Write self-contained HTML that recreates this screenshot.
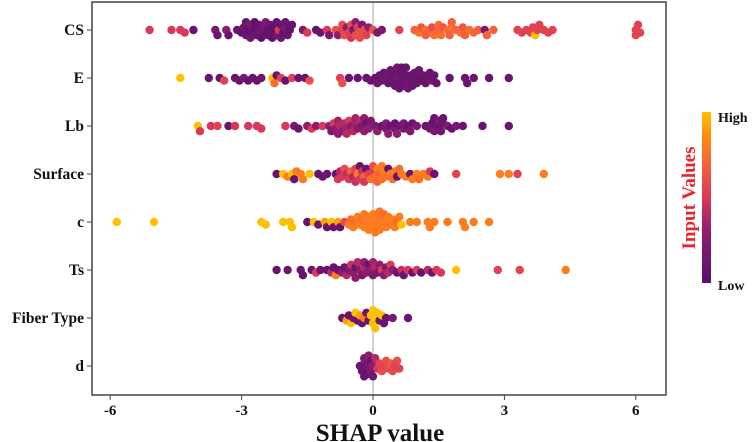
<!DOCTYPE html>
<html><head><meta charset="utf-8"><style>
html,body{margin:0;padding:0;background:#fff;width:754px;height:442px;overflow:hidden}
svg text{font-family:"Liberation Serif",serif;font-weight:bold}
</style></head><body>
<svg id="chart" width="754" height="442" viewBox="0 0 754 442" xmlns="http://www.w3.org/2000/svg">
<defs><linearGradient id="cb" x1="0" y1="1" x2="0" y2="0">
<stop offset="0" stop-color="#56106e"/><stop offset="0.3" stop-color="#8e1d6e"/><stop offset="0.5" stop-color="#d9385a"/><stop offset="0.7" stop-color="#f5613a"/><stop offset="0.85" stop-color="#ff8a10"/><stop offset="1" stop-color="#ffc000"/></linearGradient></defs>
<line x1="373" y1="2" x2="373" y2="395" stroke="#aaa" stroke-width="1"/>
<g id="points"></g>
<rect x="92" y="2" width="574" height="393" fill="none" stroke="#444" stroke-width="1.5"/>
<g id="axes"></g>
<text x="380" y="441" font-size="25" text-anchor="middle" fill="#111">SHAP value</text>
<rect x="702" y="112" width="9" height="171" fill="url(#cb)"/>
<text x="718" y="122" font-size="14" fill="#111">High</text>
<text x="718" y="290" font-size="14" fill="#111">Low</text>
<text x="0" y="0" font-size="19" fill="#e8242c" text-anchor="middle" transform="translate(695,198) rotate(-90)">Input Values</text>
</svg>
<script>
const features = ["CS","E","Lb","Surface","c","Ts","Fiber Type","d"];
const xTicks = [-6,-3,0,3,6];
const csShap=[-5.1,-4.6,-4.4,-4.3,-4.1,-3.6,-3.55,-3.35,-3.3,-3.1,-3.0,-2.95,-2.9,-2.85,-2.8,-2.75,-2.7,-2.65,-2.6,-2.55,-2.5,-2.45,-2.4,-2.35,-2.3,-2.25,-2.2,-2.15,-2.1,-2.05,-2.0,-1.95,-1.9,-1.85,-2.9,-2.8,-2.7,-2.6,-2.5,-2.4,-2.3,-2.2,-2.1,-2.0,-1.6,-1.5,-1.3,-1.2,-1.05,-1.0,-0.85,-0.8,-0.7,-0.65,-0.6,-0.55,-0.5,-0.45,-0.4,-0.35,-0.3,-0.25,-0.2,-0.15,-0.1,0.0,0.1,-0.7,-0.5,-0.3,-0.4,0.2,0.6,0.95,1.05,1.1,1.2,1.3,1.35,1.4,1.5,1.55,1.6,1.7,1.75,1.8,1.9,2.0,2.05,2.1,2.2,2.3,2.4,2.55,2.6,2.75,1.2,1.5,1.8,3.3,3.4,3.5,3.65,3.7,3.75,3.8,3.9,4.0,4.1,3.6,6.0,6.05,6.1,6.0];
const csVal=[.5,.5,.5,.5,.1,.2,.1,.3,.1,.1,.05,.15,.1,.05,.2,.1,.05,.1,.15,.05,.1,.2,.05,.1,.1,.05,.15,.5,.1,.05,.2,.1,.05,.1,.1,.15,.05,.1,.2,.1,.05,.1,.15,.1,.2,.5,.1,.1,.5,.2,.6,.3,.55,.6,.3,.55,.6,.2,.6,.55,.6,.2,.6,.55,.3,.6,.2,.6,.5,.6,.3,.2,.55,.7,.75,.65,.75,.7,.6,.75,.7,.75,.65,.75,.7,.75,.7,.75,.65,.7,.75,.72,.7,.2,.7,.7,.7,.75,.7,.55,.55,.55,.55,1.0,.55,.55,.55,.55,.55,.55,.55,.55,.55,.55];
const eShap=[-4.4,-3.75,-3.5,-3.4,-3.15,-3.05,-2.95,-2.85,-2.75,-2.65,-2.55,-2.3,-2.25,-2.2,-2.1,-2.0,-1.85,-1.7,-1.55,-1.45,-0.75,-0.7,-0.55,-0.35,-0.15,-0.05,0.05,0.1,0.15,0.2,0.25,0.3,0.35,0.4,0.45,0.5,0.55,0.6,0.65,0.7,0.75,0.8,0.85,0.9,0.95,1.0,1.05,1.1,1.15,1.2,1.25,1.3,1.35,1.4,1.45,0.4,0.5,0.55,0.6,0.65,0.7,0.75,0.8,0.9,1.0,0.6,0.7,1.75,2.1,2.15,2.3,2.65,3.1];
const eVal=[1,.1,.1,.55,.1,.1,.2,.1,.1,.1,.15,1,.75,.1,.55,.1,.55,.1,.1,.6,.55,.6,.1,.1,.1,.1,.1,.15,.1,.12,.1,.15,.1,.1,.12,.1,.15,.1,.1,.12,.1,.15,.1,.1,.12,.1,.15,.1,.1,.12,.1,.1,.15,.1,.1,.12,.1,.15,.1,.12,.1,.1,.15,.1,.12,.1,.1,.1,.1,.1,.1,.1,.1];
const lbShap=[-4.0,-3.95,-3.7,-3.55,-3.3,-3.15,-2.85,-2.65,-2.55,-2.0,-1.8,-1.7,-1.5,-1.4,-1.3,-1.15,-1.0,-0.95,-0.9,-0.85,-0.8,-0.75,-0.7,-0.65,-0.6,-0.55,-0.5,-0.45,-0.4,-0.35,-0.3,-0.25,-0.2,-0.15,-0.1,-0.05,-0.8,-0.6,-0.4,-0.2,0.05,0.1,0.2,0.3,0.35,0.4,0.5,0.55,0.6,0.7,0.8,0.85,0.9,1.0,0.3,0.5,0.7,1.2,1.3,1.35,1.4,1.5,1.55,1.6,1.7,1.8,1.9,1.4,1.5,1.6,2.05,2.5,3.1];
const lbVal=[1,.5,.5,.55,.1,.5,.5,.5,.5,.5,.2,.1,.3,.5,.3,.5,.3,.2,.5,.3,.35,.4,.3,.4,.35,.5,.3,.4,.35,.3,.4,.2,.3,.1,.3,.2,.3,.4,.35,.3,.2,.3,.1,.2,.3,.1,.2,.3,.15,.2,.1,.2,.1,.2,.25,.1,.2,.1,.15,.1,.2,.1,.15,.1,.2,.1,.2,.1,.2,.1,.1,.1,.1];
const surfShap=[-2.2,-2.05,-1.95,-1.85,-1.8,-1.75,-1.65,-1.6,-1.45,-1.25,-1.15,-1.05,-0.85,-0.8,-0.75,-0.7,-0.65,-0.6,-0.55,-0.5,-0.45,-0.4,-0.35,-0.3,-0.25,-0.2,-0.15,-0.1,-0.05,0,0.05,0.1,0.15,0.2,0.25,0.3,0.35,0.4,0.45,0.5,0.55,0.6,0.65,-0.4,-0.2,0,0.2,-0.3,0.1,0.75,0.85,0.9,1.0,1.05,1.15,1.25,1.3,1.4,1.9,2.9,3.1,3.3,3.9];
const surfVal=[.1,1,.8,1,.1,.8,.8,.8,1,.1,.1,.1,.1,.5,.4,.5,.6,.45,.5,.7,.4,.55,.8,.5,.45,.7,.1,.55,.75,.5,.75,.8,.7,.75,.8,.75,.1,.8,.75,.8,.1,.75,.8,.45,.5,.6,.8,.1,.7,.8,.1,.8,.8,.75,.8,.8,.5,.1,.55,.8,.8,.55,.8];
const cShap=[-5.85,-5.0,-2.55,-2.45,-2.05,-1.9,-1.85,-1.5,-1.35,-1.25,-1.1,-1.05,-0.95,-0.9,-0.8,-0.75,-0.65,-0.55,-0.5,-0.45,-0.4,-0.35,-0.3,-0.25,-0.2,-0.15,-0.1,-0.05,0,0.05,0.1,0.15,0.2,0.25,0.3,0.35,0.4,0.45,0.5,0.55,0.6,0.65,-0.2,0,0.1,0.2,0.3,-0.1,0.05,0.15,0.85,1.0,1.25,1.3,1.4,1.7,2.05,2.1,2.3,2.65];
const cVal=[1,1,1,1,1,1,1,.1,1,.1,.9,.1,1,.1,.9,.1,.6,.8,.75,.8,.75,.8,.8,.75,.8,.8,.78,.8,.8,.8,.78,.8,.8,.75,.8,.8,.78,.8,.8,.75,.8,1,.8,.8,.8,.78,.8,.8,.8,.78,.8,.8,.8,.8,.8,.8,.8,.8,.8,.8];
const tsShap=[-2.2,-1.95,-1.65,-1.6,-1.4,-1.3,-1.2,-1.05,-0.95,-0.9,-0.85,-0.8,-0.7,-0.65,-0.6,-0.55,-0.5,-0.45,-0.4,-0.35,-0.3,-0.25,-0.2,-0.15,-0.1,-0.05,0,0.05,0.1,0.15,0.2,0.25,0.3,0.35,0.4,0.45,-0.4,-0.2,0,0.55,0.65,0.7,0.8,0.9,1.0,1.1,1.25,1.35,1.45,1.55,1.9,2.85,3.35,4.4];
const tsVal=[.1,.1,.1,.1,.1,.5,.1,.1,.4,.1,.8,.1,.3,.1,.4,.2,.45,.3,.1,.4,.3,.2,.4,.3,.1,.3,.2,.4,.2,.3,.5,.3,.2,.4,.5,.3,.3,.3,.35,.1,.45,.1,.5,.1,.5,.1,.4,.1,.5,.5,1,.55,.55,.8];
const fibShap=[-0.7,-0.6,-0.55,-0.5,-0.45,-0.4,-0.35,-0.3,-0.25,-0.2,-0.15,-0.1,-0.05,0,0,0.05,0.05,0.1,0.15,0.2,0.25,0.3,0.45,0.8];
const fibVal=[.1,.9,.1,1,.1,1,.1,.9,.1,.8,.1,.1,1,1,1,1,1,1,.1,1,.1,.1,.2,.1];
const dShap=[-0.3,-0.25,-0.2,-0.2,-0.15,-0.15,-0.1,-0.1,-0.05,-0.05,0,0,0.05,0.1,0.15,0.2,0.25,0.3,0.35,0.4,0.45,0.5,0.55,0.6,-0.1,-0.2];
const dVal=[.1,.1,.15,.2,.1,.2,.1,.3,.1,.2,.15,.3,.4,.5,.55,.6,.55,.6,.6,.65,.6,.55,.6,.55,.2,.1];
const shapRows=[csShap,eShap,lbShap,surfShap,cShap,tsShap,fibShap,dShap];
const valRows=[csVal,eVal,lbVal,surfVal,cVal,tsVal,fibVal,dVal];

const NS="http://www.w3.org/2000/svg";
const X0=373,KX=43.8,Y0=30,DY=48;
function xScale(v){return X0+v*KX;}
function yScale(i){return Y0+i*DY;}
const stops=[[0,[86,16,110]],[0.3,[142,29,110]],[0.5,[217,56,90]],[0.7,[245,97,58]],[0.85,[255,138,16]],[1,[255,192,0]]];
function color(t){t=Math.max(0,Math.min(1,t));for(let i=1;i<stops.length;i++){if(t<=stops[i][0]){const a=stops[i-1],b=stops[i],f=(t-a[0])/(b[0]-a[0]);return "rgb("+a[1].map((c,k)=>Math.round(c+(b[1][k]-c)*f)).join(",")+")";}}return "rgb(255,192,0)";}
const pts=document.getElementById("points"),axes=document.getElementById("axes");
shapRows.forEach((sh,ri)=>{
  const vals=valRows[ri];
  const idx=sh.map((_,i)=>i).sort((a,b)=>sh[a]-sh[b]);
  const placed=[];const yc=yScale(ri);
  idx.forEach(i=>{
    const x=xScale(sh[i]);let best=0,bestD=-1;
    for(let k=0;k<9;k++){
      const off=(k%2?1:-1)*Math.ceil(k/2)*2.6;
      let md=1e9;placed.forEach(p=>{if(Math.abs(p[0]-x)<6){const d=Math.hypot(p[0]-x,p[1]-off);if(d<md)md=d;}});
      if(md>=5){best=off;bestD=md;break;}
      if(md>bestD){bestD=md;best=off;}
    }
    placed.push([x,best]);
    const c=document.createElementNS(NS,"circle");
    c.setAttribute("cx",x.toFixed(1));c.setAttribute("cy",(yc+best).toFixed(1));c.setAttribute("r","4.2");
    c.setAttribute("fill",color(vals[i]));
    
    
    pts.appendChild(c);
  });
  const t=document.createElementNS(NS,"line");
  t.setAttribute("x1","87");t.setAttribute("x2","92");t.setAttribute("y1",yc);t.setAttribute("y2",yc);t.setAttribute("stroke","#444");
  
  
  axes.appendChild(t);
  const l=document.createElementNS(NS,"text");
  l.setAttribute("x","84");l.setAttribute("y",yc+5);l.setAttribute("text-anchor","end");l.setAttribute("font-size","15.5");l.setAttribute("fill","#111");
  l.textContent=features[ri];
  
  
  axes.appendChild(l);
});
xTicks.forEach(v=>{
  const x=xScale(v);
  const t=document.createElementNS(NS,"line");
  t.setAttribute("x1",x);t.setAttribute("x2",x);t.setAttribute("y1","395");t.setAttribute("y2","400");t.setAttribute("stroke","#444");
  
  
  axes.appendChild(t);
  const l=document.createElementNS(NS,"text");
  l.setAttribute("x",x);l.setAttribute("y","415");l.setAttribute("text-anchor","middle");l.setAttribute("font-size","15");l.setAttribute("fill","#111");
  l.textContent=String(v);
  
  
  axes.appendChild(l);
});
</script>
</body></html>
